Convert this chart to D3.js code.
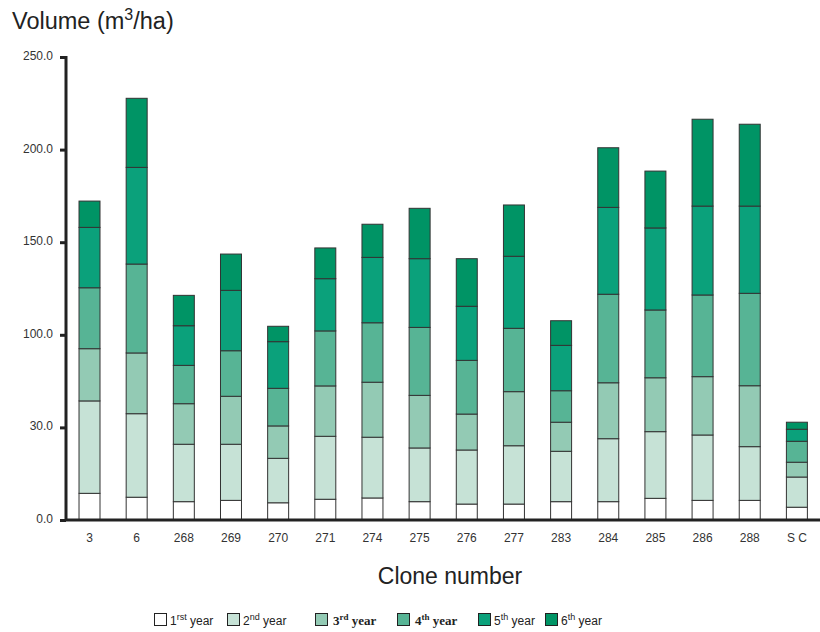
<!DOCTYPE html>
<html><head><meta charset="utf-8">
<script src="https://cdn.jsdelivr.net/npm/d3@7"></script>
<style>body{margin:0;background:#fff}svg{display:block}</style>
</head><body>
<svg id="chart" width="820" height="632"></svg>
<script>
const categories = ["3","6","268","269","270","271","274","275","276","277","283","284","285","286","288","S C"];
const year1 = [14.4,12.3,9.9,10.6,9.3,11.2,11.9,9.9,8.6,8.6,9.9,9.9,11.7,10.6,10.6,6.9];
const year2 = [49.9,45.1,31.0,30.3,24.0,34.0,32.8,29.0,29.2,31.5,27.2,34.0,36.0,35.3,29.0,16.3];
const year3 = [28.2,32.8,21.9,25.9,17.5,27.2,29.7,28.4,19.4,29.2,15.7,30.2,29.1,31.5,32.9,8.0];
const year4 = [32.9,48.0,20.7,24.6,20.3,29.7,32.1,36.7,29.0,34.2,17.0,47.8,36.6,44.1,49.9,11.3];
const year5 = [32.6,52.2,21.4,32.6,25.2,28.2,35.3,37.1,29.2,38.9,24.5,46.9,44.3,48.0,47.1,6.5];
const year6 = [14.2,37.3,16.4,19.6,8.3,16.6,17.9,27.2,25.7,27.7,13.3,32.2,30.7,46.9,44.2,3.8];
const seriesKeys = ["y1","y2","y3","y4","y5","y6"];
const seriesColors = ["#ffffff","#c6e2d6","#93cab4","#57b495","#0ba17b","#009465"];
const yTickValues = [0,50,100,150,200,250];
const yTickLabels = ["0.0","30.0","100.0","150.0","200.0","250.0"];

const rows = categories.map((c,i)=>({cat:c,y1:year1[i],y2:year2[i],y3:year3[i],y4:year4[i],y5:year5[i],y6:year6[i]}));
const svg = d3.select("#chart");
const x = d3.scaleBand().domain(categories).range([66,820.4]).paddingInner(0.555).paddingOuter(0.276);
const y = d3.scaleLinear().domain([0,250]).range([520,57]);
const stack = d3.stack().keys(seriesKeys)(rows);
const font = "'Liberation Sans', Arial, sans-serif";

svg.append("g").selectAll("g").data(stack).join("g")
  .attr("fill",(d,i)=>seriesColors[i])
  .selectAll("rect").data(d=>d).join("rect")
  .attr("x",d=>x(d.data.cat)).attr("width",x.bandwidth())
  .attr("y",d=>y(d[1])).attr("height",d=>y(d[0])-y(d[1]))
  .attr("stroke","#333").attr("stroke-width",1);

// y axis
const yAxis = svg.append("g").attr("transform","translate(66,0)")
  .call(d3.axisLeft(y).tickValues(yTickValues).tickFormat((d,i)=>yTickLabels[i]).tickSize(5).tickPadding(8));
yAxis.select(".domain").remove();
yAxis.append("line").attr("x1",0).attr("x2",0).attr("y1",y(250)-1).attr("y2",y(0)+1).attr("stroke","#222").attr("stroke-width",3);
yAxis.selectAll(".tick line").attr("stroke","#222").attr("stroke-width",3).attr("x2",-6);
yAxis.selectAll(".tick text").attr("font-family",font).attr("font-size",12).attr("fill","#333").attr("dy","0.2em");

// x axis
const xAxis = svg.append("g").attr("transform","translate(0,520)")
  .call(d3.axisBottom(x).tickSize(0).tickPadding(13));
xAxis.select(".domain").remove();
xAxis.append("line").attr("x1",66).attr("x2",820).attr("y1",0).attr("y2",0).attr("stroke","#222").attr("stroke-width",3);
xAxis.selectAll(".tick text").attr("font-family",font).attr("font-size",12).attr("fill","#333");

// titles
const t = svg.append("text").attr("x",12).attr("y",29).attr("font-family",font).attr("font-size",23.5).attr("fill","#222");
t.append("tspan").text("Volume (m");
t.append("tspan").attr("dy",-9).attr("font-size",16).text("3");
t.append("tspan").attr("dy",9).text("/ha)");
svg.append("text").attr("x",450).attr("y",584).attr("text-anchor","middle").attr("font-family",font).attr("font-size",23).attr("fill","#222").text("Clone number");

// legend
const legendItems = [
  {x:154,num:"1",sup:"rst",bold:false},
  {x:227,num:"2",sup:"nd",bold:false},
  {x:315,num:"3",sup:"rd",bold:true},
  {x:397,num:"4",sup:"th",bold:true},
  {x:478,num:"5",sup:"th",bold:false},
  {x:545,num:"6",sup:"th",bold:false}
];
const lg = svg.append("g");
legendItems.forEach((it,i)=>{
  lg.append("rect").attr("x",it.x+0.5).attr("y",613.5).attr("width",12).attr("height",12)
    .attr("fill",seriesColors[i]).attr("stroke","#222").attr("stroke-width",1);
  const tx = lg.append("text").attr("x",it.x+(it.bold?18:16)).attr("y",625).attr("fill","#222")
    .attr("font-family",it.bold?"'Liberation Serif', 'DejaVu Serif', serif":font)
    .attr("font-weight",it.bold?"bold":"normal").attr("font-size",it.bold?13:12);
  tx.append("tspan").text(it.num);
  tx.append("tspan").attr("dy",-5).attr("font-size",9).text(it.sup);
  tx.append("tspan").attr("dy",5).text(" year");
});
</script>
</body></html>
